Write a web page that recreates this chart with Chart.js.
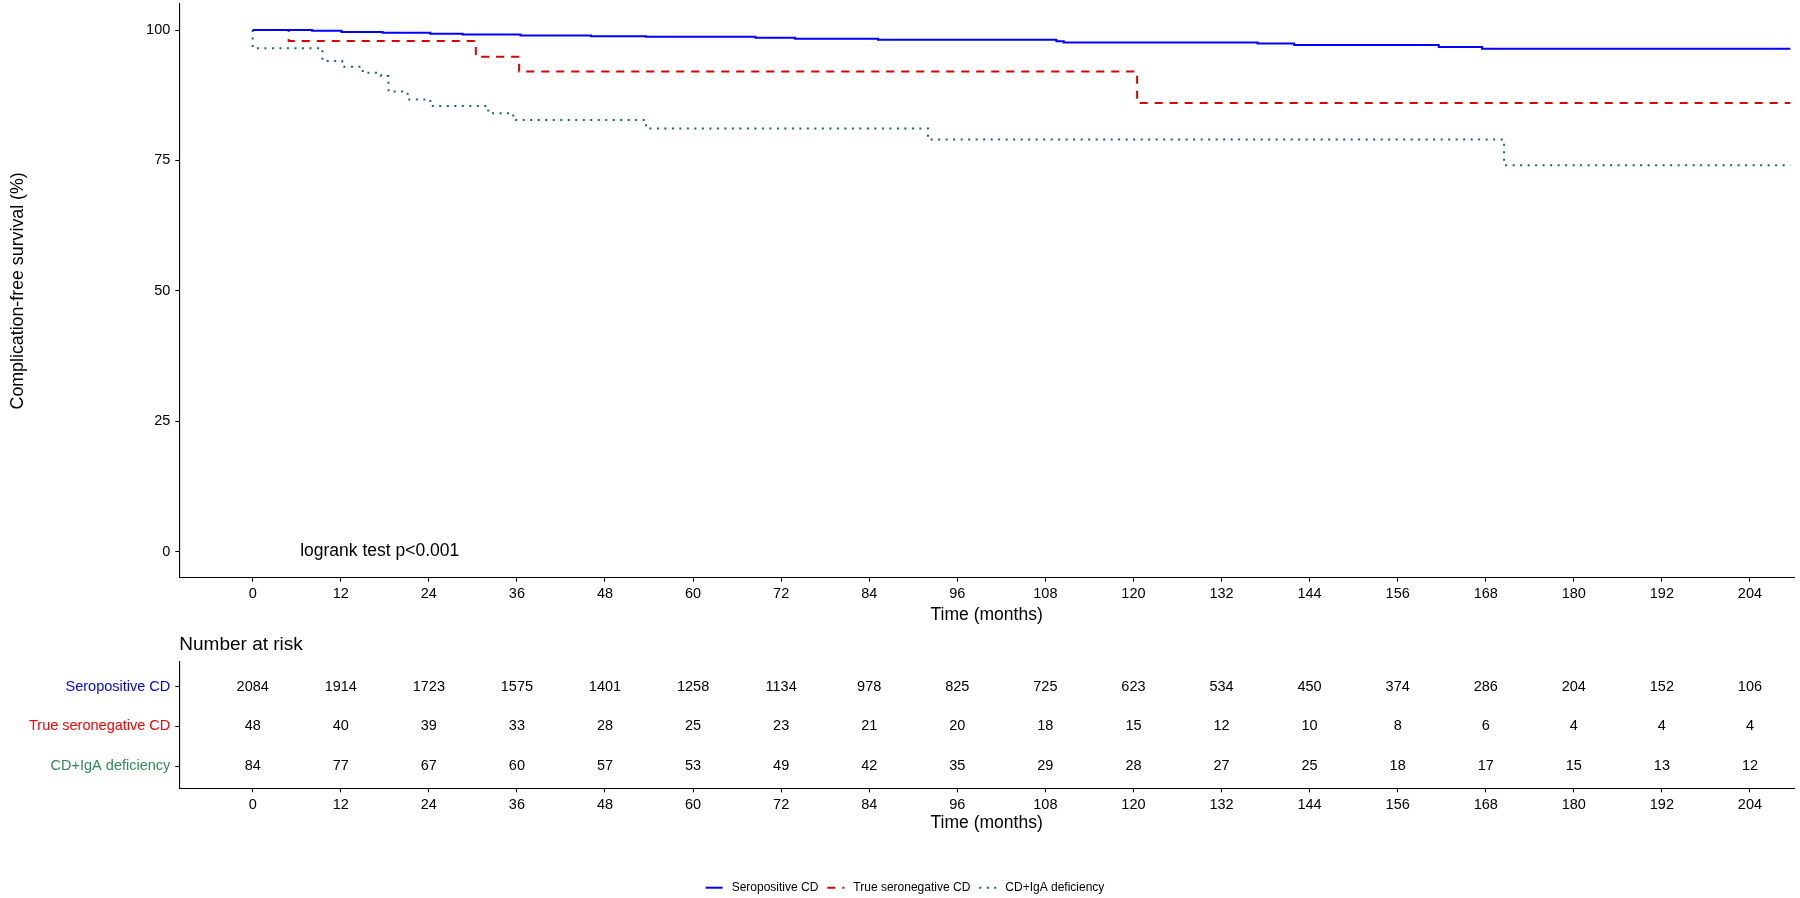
<!DOCTYPE html>
<html>
<head>
<meta charset="utf-8">
<script src="https://cdn.jsdelivr.net/npm/chart.js@4.4.1/dist/chart.umd.min.js"></script>
<style>
html,body{margin:0;padding:0;background:#fff;width:1800px;height:898px;overflow:hidden;}
#main{position:absolute;left:0;top:0;}
#risk{position:absolute;left:0;top:630px;}
</style>
</head>
<body>
<canvas id="main" width="1800" height="640"></canvas>
<canvas id="risk" width="1800" height="268"></canvas>
<script>
// ---------- data ----------
const groups = ['Seropositive CD', 'True seronegative CD', 'CD+IgA deficiency'];

const seroTime = [0, 8.1, 12.1, 17.7, 24.2, 28.6, 36.5, 46.1, 53.6, 68.5, 73.9, 85.2, 109.5, 110.5, 136.9, 141.9, 161.6, 167.5, 209.5];
const seroSurv = [100, 99.87, 99.65, 99.5, 99.3, 99.17, 98.98, 98.82, 98.7, 98.54, 98.35, 98.15, 97.85, 97.64, 97.45, 97.13, 96.74, 96.43, 96.43];

const negTime = [0, 4.9, 30.4, 36.3, 120.5, 209.5];
const negSurv = [100, 97.9, 94.9, 92.05, 86.0, 86.0];

const igaTime = [0, 0, 9.5, 12.2, 15.0, 17.5, 18.5, 21.1, 24.2, 32.1, 35.5, 53.6, 92.0, 170.5, 209.5];
const igaSurv = [100, 96.5, 94.05, 92.95, 91.8, 91.2, 88.2, 86.7, 85.45, 84.05, 82.75, 81.15, 79.0, 74.1, 74.1];

const xTickValues = [0, 12, 24, 36, 48, 60, 72, 84, 96, 108, 120, 132, 144, 156, 168, 180, 192, 204];
const yTickValues = [0, 25, 50, 75, 100];

const riskSero = [2084, 1914, 1723, 1575, 1401, 1258, 1134, 978, 825, 725, 623, 534, 450, 374, 286, 204, 152, 106];
const riskNeg  = [48, 40, 39, 33, 28, 25, 23, 21, 20, 18, 15, 12, 10, 8, 6, 4, 4, 4];
const riskIga  = [84, 77, 67, 60, 57, 53, 49, 42, 35, 29, 28, 27, 25, 18, 17, 15, 13, 12];

const pvalText = 'logrank test p<0.001';
const pvalCoord = [17.3, 0];

// ---------- styles ----------
const FONT = '"Liberation Sans", Arial, Helvetica, sans-serif';
const lineColors = ['#0000FF', '#E00000', '#107048'];
const labelColors = ['#0000FF', '#FF0000', '#2E8B57'];
const dashes = [[], [8, 7], [2, 5.5]];
Chart.defaults.font.family = FONT;
Chart.defaults.color = '#000';

const seriesT = [seroTime, negTime, igaTime];
const seriesS = [seroSurv, negSurv, igaSurv];
const riskVals = [riskSero, riskNeg, riskIga];

const tickGrid = {display: true, drawOnChartArea: false, drawTicks: true, tickLength: 4, tickColor: '#000', tickWidth: 1.1};
const axBorder = {display: true, color: '#000', width: 1.1};

function fixX(h) {
  return s => { s.height = h; s.paddingLeft = 0; s.paddingRight = 0; s.paddingTop = 0; s.paddingBottom = 0; };
}
function fixY(w) {
  return s => { s.width = w; s.paddingLeft = 0; s.paddingRight = 0; s.paddingTop = 0; s.paddingBottom = 0; };
}

const pvalPlugin = {
  id: 'pval',
  afterDatasetsDraw(chart) {
    const {ctx, scales: {x, y}} = chart;
    ctx.save();
    ctx.font = '17.5px ' + FONT;
    ctx.fillStyle = '#000';
    ctx.textAlign = 'center';
    ctx.textBaseline = 'middle';
    ctx.fillText(pvalText, x.getPixelForValue(pvalCoord[0]), y.getPixelForValue(pvalCoord[1]));
    ctx.restore();
  }
};

new Chart(document.getElementById('main'), {
  type: 'line',
  data: {
    datasets: groups.map((g, i) => ({
      label: g,
      data: seriesT[i].map((t, k) => ({x: t, y: seriesS[i][k]})),
      borderColor: lineColors[i],
      backgroundColor: lineColors[i],
      borderWidth: 2,
      borderDash: dashes[i],
      borderCapStyle: 'butt',
      stepped: 'before',
      pointRadius: 0,
      fill: false,
      tension: 0
    }))
  },
  options: {
    responsive: false, animation: false, devicePixelRatio: 1,
    layout: {padding: {left: 0, right: 6, top: 4, bottom: 0}},
    plugins: {legend: {display: false}, tooltip: {enabled: false}, title: {display: false}},
    scales: {
      x: {
        type: 'linear', min: -10, max: 210,
        afterBuildTicks: s => { s.ticks = xTickValues.map(v => ({value: v})); },
        afterFit: fixX(62.3),
        grid: tickGrid, border: axBorder,
        ticks: {font: {size: 14.5}, color: '#000', padding: 4, maxRotation: 0, autoSkip: false},
        title: {display: true, text: 'Time (months)', font: {size: 17.5}, color: '#000', padding: {top: 0, bottom: 14.5}}
      },
      y: {
        type: 'linear', min: -5, max: 105,
        afterBuildTicks: s => { s.ticks = yTickValues.map(v => ({value: v})); },
        afterFit: fixY(179.3),
        grid: tickGrid, border: axBorder,
        ticks: {font: {size: 14.5}, color: '#000', padding: 5},
        title: {display: true, text: 'Complication-free survival (%)', font: {size: 17.8}, color: '#000', padding: {top: 7.5, bottom: 0}}
      }
    }
  },
  plugins: [pvalPlugin]
});

// ---------- risk table ----------
const riskPlugin = {
  id: 'riskText',
  afterDatasetsDraw(chart) {
    const ctx = chart.ctx;
    ctx.save();
    ctx.font = '14.5px ' + FONT;
    ctx.fillStyle = '#000';
    ctx.textAlign = 'center';
    ctx.textBaseline = 'middle';
    chart.data.datasets.forEach((ds, di) => {
      const meta = chart.getDatasetMeta(di);
      meta.data.forEach((pt, i) => ctx.fillText(String(riskVals[di][i]), pt.x, pt.y));
    });
    // title
    ctx.textAlign = 'left';
    ctx.font = '19px ' + FONT;
    ctx.fillText('Number at risk', chart.chartArea.left, 15);
    // legend
    ctx.font = '12px ' + FONT;
    const sampleLen = 17, gapST = 9, gapItems = 9, ly = 257.7;
    const widths = groups.map(g => ctx.measureText(g).width);
    let total = 0;
    widths.forEach((w, i) => { total += sampleLen + gapST + w + (i < widths.length - 1 ? gapItems : 0); });
    let xx = 905 - total / 2;
    groups.forEach((g, i) => {
      ctx.save();
      ctx.strokeStyle = lineColors[i];
      ctx.lineWidth = 2;
      ctx.lineCap = 'butt';
      ctx.setLineDash(dashes[i]);
      ctx.beginPath();
      ctx.moveTo(xx, ly);
      ctx.lineTo(xx + sampleLen, ly);
      ctx.stroke();
      ctx.restore();
      xx += sampleLen + gapST;
      ctx.fillStyle = '#000';
      ctx.textBaseline = 'middle';
      ctx.fillText(g, xx, ly);
      xx += widths[i] + gapItems;
    });
    ctx.restore();
  }
};

new Chart(document.getElementById('risk'), {
  type: 'scatter',
  data: {
    datasets: groups.map((g, gi) => ({
      label: g,
      data: xTickValues.map(t => ({x: t, y: 3 - gi})),
      pointRadius: 0,
      showLine: false
    }))
  },
  options: {
    responsive: false, animation: false, devicePixelRatio: 1,
    layout: {padding: {left: 0, right: 6, top: 31.7, bottom: 50}},
    plugins: {legend: {display: false}, tooltip: {enabled: false}, title: {display: false}},
    scales: {
      x: {
        type: 'linear', min: -10, max: 210,
        afterBuildTicks: s => { s.ticks = xTickValues.map(v => ({value: v})); },
        afterFit: fixX(59.7),
        grid: tickGrid, border: axBorder,
        ticks: {font: {size: 14.5}, color: '#000', padding: 4, maxRotation: 0, autoSkip: false},
        title: {display: true, text: 'Time (months)', font: {size: 17.5}, color: '#000', padding: {top: 0, bottom: 14.5}}
      },
      y: {
        type: 'linear', min: 0.44, max: 3.63,
        afterBuildTicks: s => { s.ticks = [1, 2, 3].map(v => ({value: v})); },
        afterFit: fixY(179.3),
        grid: tickGrid, border: axBorder,
        ticks: {
          font: {size: 14.5}, padding: 5,
          callback: v => groups[3 - v],
          color: c => (c.tick ? labelColors[3 - c.tick.value] : '#000')
        }
      }
    }
  },
  plugins: [riskPlugin]
});
</script>
</body>
</html>
